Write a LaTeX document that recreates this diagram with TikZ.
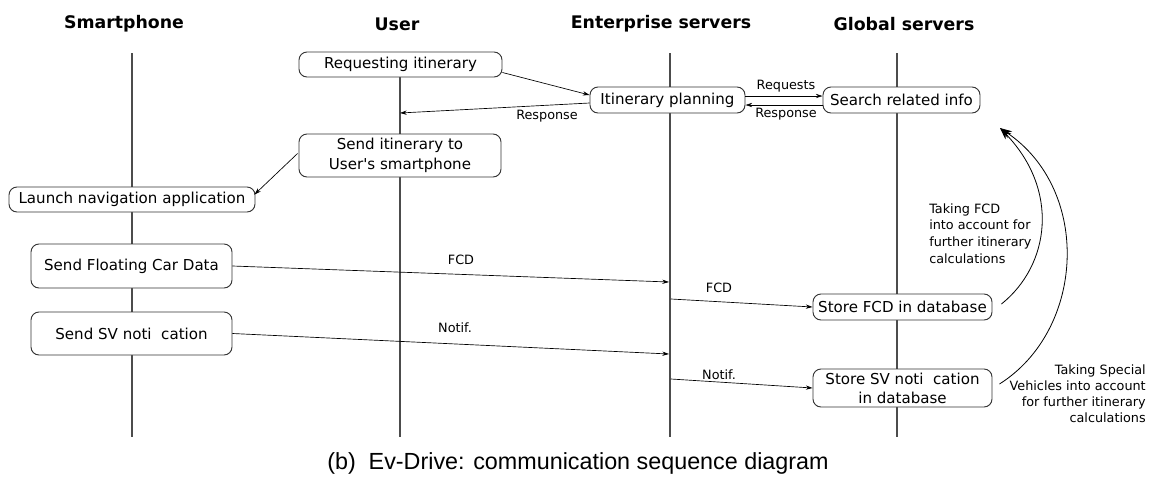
\documentclass[tikz,border=0pt]{standalone}
\usepackage{fontspec}
\setmainfont{DejaVu Sans}[Ligatures=TeXOff]
\newfontfamily\capfont{Liberation Sans}
\usetikzlibrary{arrows.meta,calc}
\begin{document}
\begin{tikzpicture}[x=0.75pt,y=-0.75pt,
  head/.style={font=\fontsize{13}{15}\selectfont\bfseries, inner sep=0pt},
  life/.style={draw=black!70, line width=0.8pt},
  box/.style={draw=black!80, line width=0.7pt, rounded corners=6pt, fill=white, align=center, inner sep=0pt, font=\fontsize{11.3}{15}\selectfont},
  sz/.style 2 args={minimum width=#1*0.75pt, minimum height=#2*0.75pt},
  msg/.style={draw, line width=0.5pt, -{Stealth[length=5pt,width=3.2pt]}},
  curve/.style={draw, line width=0.6pt, -{Stealth[length=9pt,width=6pt]}},
  lbl/.style={font=\fontsize{9.6}{12.5}\selectfont, inner sep=0pt}]
\useasboundingbox[fill=white] (0,0) rectangle (1154,480);

% headers
\node[head] (hs) at (124,24) {Smartphone};
\node[head] (hu) at (397,24) {User};
\node[head] (he) at (661,24) {Enterprise servers};
\node[head] (hg) at (904,24) {Global servers};

% lifelines
\coordinate (s1) at (132,53); \coordinate (s2) at (132,437);
\coordinate (u1) at (400,53); \coordinate (u2) at (400,437);
\coordinate (e1) at (670,53); \coordinate (e2) at (670,437);
\coordinate (g1) at (897,53); \coordinate (g2) at (897,437);
\draw[life] (s1) -- (s2);
\draw[life] (u1) -- (u2);
\draw[life] (e1) -- (e2);
\draw[life] (g1) -- (g2);

% boxes
\node[box, sz={203}{25}] (req) at (400.5,64.5) {Requesting itinerary};
\node[box, sz={155}{26}] (plan) at (667.5,100) {Itinerary planning};
\node[box, sz={157}{26}] (search) at (901.5,100) {Search related info};
\node[box, sz={202}{43}] (send) at (400,155.5) {Send itinerary to\\User's smartphone};
\node[box, sz={246}{25}] (launch) at (132,199.5) {Launch navigation application};
\node[box, sz={201}{44}] (fcd) at (131.5,266) {Send Floating Car Data};
\node[box, sz={201}{43}] (sv) at (131.5,333.5) {Send SV noti\ \ cation};
\node[box, sz={179}{26}] (sfcd) at (902.5,307) {Store FCD in database};
\node[box, sz={179}{38}, font=\fontsize{11.3}{14.3}\selectfont] (ssv) at (902.5,388) {Store SV noti\ \ cation\\in database};

% messages
\coordinate (uresp) at (400,113);
\coordinate (efcd) at (669,282);
\coordinate (efcd2) at (671,299);
\coordinate (esv) at (669,354);
\coordinate (esv2) at (671,379);

\draw[msg] ($(req.east)+(0,8)$) -- ($(plan.west)+(0,-5)$);
\draw[msg] ($(plan.west)+(0,3)$) -- (uresp);
\node[lbl] (lresp1) at (547,116) {Response};
\draw[msg] ($(plan.east)+(0,-4)$) -- ($(search.west)+(0,-4)$);
\node[lbl] (lreq) at (786,86) {Requests};
\draw[msg] ($(search.west)+(0,5)$) -- ($(plan.east)+(0,5)$);
\node[lbl] (lresp2) at (786,114) {Response};
\draw[msg] ($(send.west)+(-1,-2)$) -- ($(launch.east)+(-1,-5)$);

\draw[msg] (fcd.east) -- (efcd);
\node[lbl] (lfcd1) at (461,260) {FCD};
\draw[msg] (efcd2) -- (sfcd.west);
\node[lbl] (lfcd2) at (719,288) {FCD};
\draw[msg] (sv.east) -- (esv);
\node[lbl] (lsv1) at (455,328) {Notif.};
\draw[msg] (esv2) -- (ssv.west);
\node[lbl] (lsv2) at (719,375) {Notif.};

% feedback curves
\coordinate (tip) at (1000,128);
\draw[curve] ($(sfcd.east)+(9,-3)$) .. controls (1050,265) and (1060,190) .. (tip);
\draw[curve] ($(ssv.east)+(7,-4)$) .. controls (1085,330) and (1092,190) .. (tip);

\node[lbl, anchor=north west, align=left, font=\fontsize{9.6}{12.6}\selectfont] (tfcd) at (929,203) {Taking FCD\\into account for\\further itinerary\\calculations};
\node[lbl, anchor=north east, align=right, font=\fontsize{9.6}{12.2}\selectfont] (tsv) at (1146,364) {Taking Special\\Vehicles into account\\for further itinerary\\calculations};

% caption
\node[font=\capfont\fontsize{17.5}{20}\selectfont, inner sep=0pt] (cap) at (578,463) {(b)\ \ Ev-Drive: communication sequence diagram};
\end{tikzpicture}
\end{document}
